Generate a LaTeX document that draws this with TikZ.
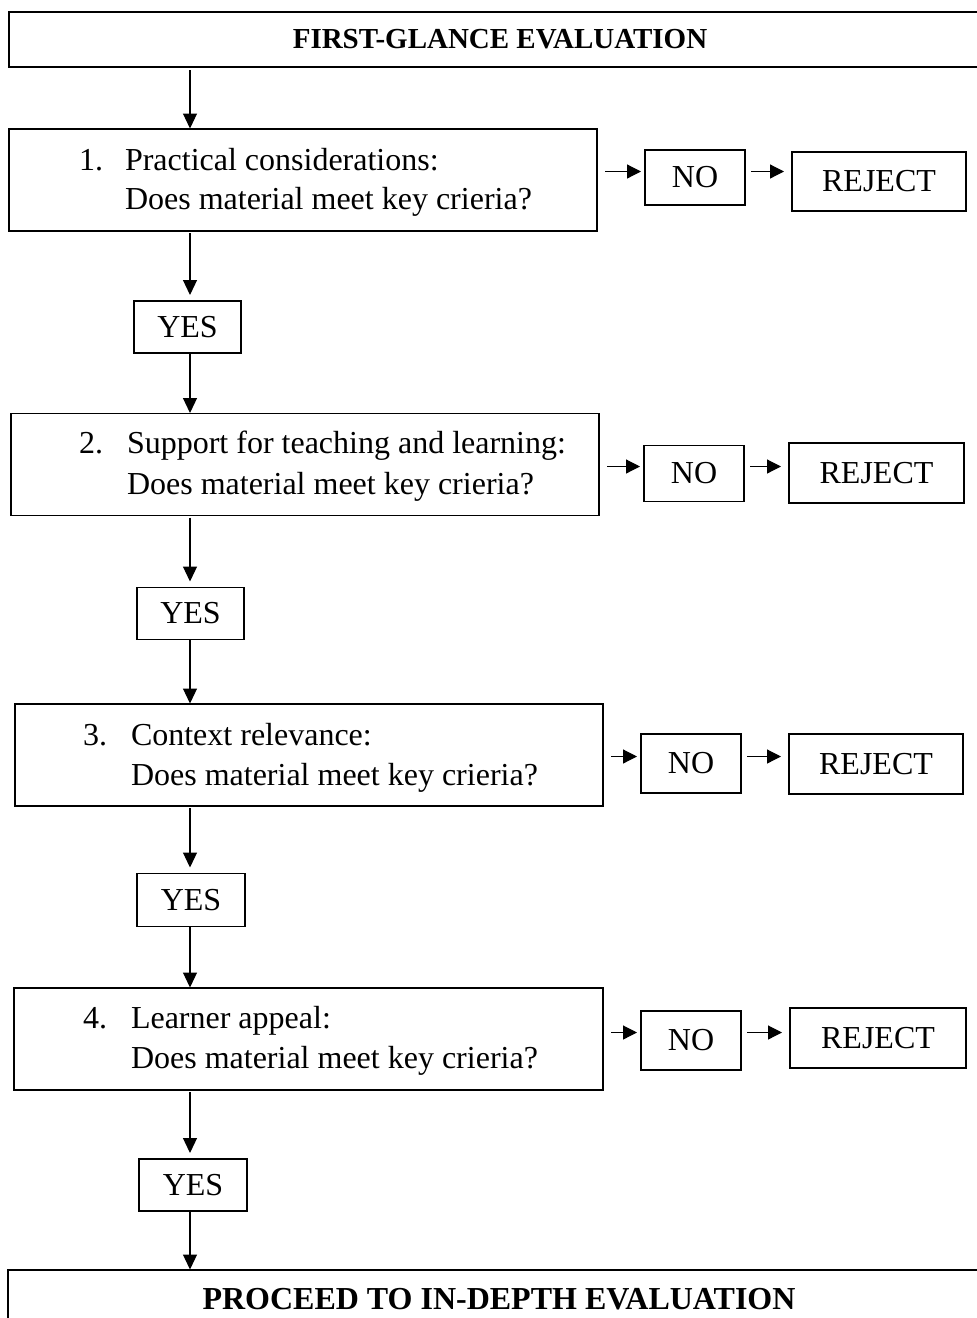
\documentclass[tikz,border=0pt]{standalone}
\usepackage{fontspec}
\setmainfont{Liberation Serif}
\usetikzlibrary{arrows.meta,calc}
\begin{document}
\begin{tikzpicture}[x=1pt,y=-1pt,
  box/.style={draw=black, line width=1.25pt, rectangle, inner sep=0pt, outer sep=0pt},
  mainbox/.style={box, minimum width=588pt, minimum height=102pt},
  yesbox/.style={box, minimum width=107pt, minimum height=52pt, font=\fontsize{32}{38}\selectfont},
  nobox/.style={box, minimum width=100pt, minimum height=58pt, font=\fontsize{32}{38}\selectfont},
  rejbox/.style={box, minimum width=175pt, minimum height=60pt, font=\fontsize{32}{38}\selectfont},
  txt/.style={inner sep=0pt, outer sep=0pt, anchor=base west, font=\fontsize{32}{38}\selectfont},
  arr/.style={line width=1.2pt, -{Triangle[length=15pt,width=14pt]}},
  harr/.style={line width=1.2pt, -{Triangle[length=14pt,width=14pt]}},
  down/.style={arr, shorten <=2pt, shorten >=6pt},
  into/.style={arr, shorten >=0.5pt},
  right1/.style={harr, shorten <=8pt, shorten >=4pt},
  right2/.style={harr, shorten <=6pt, shorten >=8pt}
]
\useasboundingbox (0,0) rectangle (977,1318);
\clip (0,0) rectangle (977,1318);
\fill[white] (0,0) rectangle (977,1318);
\coordinate (col) at (190,0);

% headings
\node[box, minimum width=982pt, minimum height=55pt, font=\fontsize{29}{34}\selectfont\bfseries] (top) at (500,39.5) {FIRST-GLANCE EVALUATION};
\node[box, minimum width=982pt, minimum height=58pt, font=\fontsize{32}{38}\selectfont\bfseries] (bot) at (499,1299) {PROCEED TO IN-DEPTH EVALUATION};

% step boxes
\node[mainbox] (b1) at (303,180) {};
\node[mainbox] (b2) at (305,464.5) {};
\node[mainbox] (b3) at (309,755) {};
\node[mainbox, minimum width=589pt] (b4) at (308.5,1039) {};

\node[txt] (n1) at (79,170) {1.};
\node[txt] (t1a) at (125,170) {Practical considerations:};
\node[txt] (t1b) at (125,209.5) {Does material meet key crieria?};

\node[txt] (n2) at (79,453.5) {2.};
\node[txt] (t2a) at (127,453.5) {Support for teaching and learning:};
\node[txt] (t2b) at (127,494) {Does material meet key crieria?};

\node[txt] (n3) at (83,745) {3.};
\node[txt] (t3a) at (131,745) {Context relevance:};
\node[txt] (t3b) at (131,785) {Does material meet key crieria?};

\node[txt] (n4) at (83,1028.5) {4.};
\node[txt] (t4a) at (131,1028.5) {Learner appeal:};
\node[txt] (t4b) at (131,1068.5) {Does material meet key crieria?};

% YES boxes
\node[yesbox] (y1) at (187.5,327) {YES};
\node[yesbox] (y2) at (190.5,613.5) {YES};
\node[yesbox, minimum width=108pt, minimum height=53pt] (y3) at (191,900) {YES};
\node[yesbox, minimum width=108pt] (y4) at (193,1185) {YES};

% NO / REJECT boxes
\node[nobox, minimum height=55pt] (no1) at (695,177.5) {NO};
\node[rejbox, minimum width=174pt, minimum height=59pt] (r1) at (879,181.5) {REJECT};
\node[nobox, minimum height=56pt] (no2) at (694,473.5) {NO};
\node[rejbox] (r2) at (876.5,473) {REJECT};
\node[nobox, minimum height=59pt] (no3) at (691,763.5) {NO};
\node[rejbox, minimum width=174pt] (r3) at (876,764) {REJECT};
\node[nobox, minimum height=59pt] (no4) at (691,1040.5) {NO};
\node[rejbox, minimum width=176pt] (r4) at (878,1038) {REJECT};

% vertical connectors
\draw[arr, shorten <=3pt, shorten >=0.5pt] (top.south -| col) -- (b1.north -| col);
\draw[down] (b1.south -| col) -- (y1.north -| col);
\draw[into] (y1.south -| col) -- (b2.north -| col);
\draw[down] (b2.south -| col) -- (y2.north -| col);
\draw[into] (y2.south -| col) -- (b3.north -| col);
\draw[down] (b3.south -| col) -- (y3.north -| col);
\draw[into] (y3.south -| col) -- (b4.north -| col);
\draw[down] (b4.south -| col) -- (y4.north -| col);
\draw[into] (y4.south -| col) -- (bot.north -| col);

% horizontal connectors
\draw[right1] ($(b1.east |- no1.west)+(0,-6)$) -- ($(no1.west)+(0,-6)$);
\draw[right2] ($(no1.east)+(0,-6)$) -- ($(r1.west |- no1.east)+(0,-6)$);
\draw[right1] ($(b2.east |- no2.west)+(0,-7)$) -- ($(no2.west)+(0,-7)$);
\draw[right2] ($(no2.east)+(0,-7)$) -- ($(r2.west |- no2.east)+(0,-7)$);
\draw[right1] ($(b3.east |- no3.west)+(0,-7)$) -- ($(no3.west)+(0,-7)$);
\draw[right2] ($(no3.east)+(0,-7)$) -- ($(r3.west |- no3.east)+(0,-7)$);
\draw[right1] ($(b4.east |- no4.west)+(0,-8)$) -- ($(no4.west)+(0,-8)$);
\draw[right2] ($(no4.east)+(0,-8)$) -- ($(r4.west |- no4.east)+(0,-8)$);
\end{tikzpicture}
\end{document}
